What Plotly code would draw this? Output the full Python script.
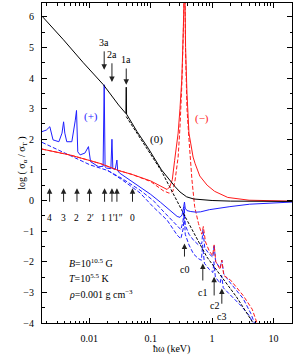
import numpy as np
import plotly.graph_objects as go

# ---- data (photon energy in keV, log10 of opacity ratio) ----
# mode 0 (black)
k_solid_x = [0.0017, 0.0038, 0.008, 0.017, 0.03, 0.0395, 0.04, 0.0405, 0.06, 0.091, 0.15, 0.2, 0.25, 0.3, 0.385, 0.5, 0.7, 1.0, 2, 5, 20]
k_solid_y = [6.02, 5.25, 4.5, 3.78, 3.12, 2.84, 3.7, 2.82, 2.25, 1.71, 1.0, 0.68, 0.45, 0.28, 0.12, 0.05, 0.02, 0.0, -0.02, -0.03, -0.03]
k_dash_x = [0.04, 0.091, 0.15, 0.385, 0.82, 2.5, 4.6, 5.0]
k_dash_y = [2.74, 1.65, 0.96, -0.62, -1.84, -3.15, -3.95, -4.1]

# mode - (red)
r_solid_x = [0.0017, 0.005, 0.01, 0.015, 0.03, 0.05, 0.1, 0.15, 0.185, 0.205, 0.225, 0.245, 0.28, 0.30, 0.322, 0.34,
             0.352, 0.358, 0.37, 0.39, 0.42, 0.49, 0.53, 0.63, 0.83, 1.1, 1.8, 4, 20]
r_solid_y = [1.68, 1.48, 1.31, 1.21, 0.98, 0.85, 0.64, 0.45, 0.36, 0.45, 0.68, 1.3, 2.2, 3.0, 4.0, 5.6,
             7.5, 7.5, 5.0, 3.5, 2.2, 1.42, 1.2, 0.8, 0.5, 0.3, 0.1, 0.01, -0.02]
r_dash_x = [0.0017, 0.005, 0.01, 0.015, 0.03, 0.05, 0.1, 0.13, 0.16, 0.2, 0.23, 0.25, 0.28, 0.30, 0.322, 0.34, 0.352,
            0.358, 0.37, 0.39, 0.42, 0.44, 0.47, 0.52, 0.6, 0.68, 0.72, 0.78, 0.9, 1.02, 1.08, 1.15, 1.35, 1.44, 1.55,
            2.0, 2.4, 3.2, 4.5, 5.3, 5.6]
r_dash_y = [1.68, 1.48, 1.31, 1.21, 0.98, 0.85, 0.62, 0.46, 0.32, 0.24, 0.3, 0.67, 1.42, 2.4, 3.8, 5.5, 7.5,
            7.5, 4.8, 3.0, 2.0, 1.42, 0.67, -0.2, -0.75, -1.1, -0.85, -1.35, -1.65, -1.8, -1.45, -2.0, -2.25, -1.95, -2.45,
            -2.6, -2.8, -3.1, -3.55, -3.95, -4.1]

# mode + (blue)
b_solid_x = [0.0017, 0.0020, 0.00228, 0.00257, 0.0032, 0.0036, 0.00382, 0.0040, 0.0043, 0.0052, 0.0059, 0.0062,
             0.0065, 0.0071, 0.0085, 0.0097, 0.0105, 0.0142, 0.0168, 0.0175, 0.0181, 0.019, 0.0225, 0.0234, 0.0242,
             0.0265, 0.0282, 0.029, 0.031, 0.05, 0.067, 0.1, 0.145, 0.21, 0.27, 0.3, 0.325, 0.345, 0.355, 0.365,
             0.39, 0.45, 0.55, 0.65, 0.9, 1.95, 4.1, 20]
b_solid_y = [2.25, 2.3, 2.41, 1.98, 1.92, 2.2, 2.57, 2.2, 1.92, 1.92, 2.6, 2.94,
             1.59, 1.49, 1.55, 1.76, 1.27, 1.1, 1.12, 3.78, 1.1, 1.06, 1.04, 2.0, 1.04,
             1.02, 1.32, 0.98, 0.9, 0.62, 0.43, 0.2, -0.06, -0.33, -0.52, -0.55, -0.47, -0.2, -0.05, -0.25,
             -0.33, -0.36, -0.38, -0.37, -0.3, -0.2, -0.12, -0.05]
b_dashA_x = [0.0017, 0.005, 0.0104, 0.02, 0.034, 0.067, 0.11, 0.16, 0.22, 0.27, 0.31, 0.335, 0.352, 0.365, 0.42,
             0.5, 0.6, 0.68, 0.71, 0.76, 0.9, 1.03, 1.08, 1.14, 1.35, 1.44, 1.55, 2.0, 2.5, 3.2, 4.3, 5.0]
b_dashA_y = [1.9, 1.45, 1.16, 0.98, 0.72, 0.34, 0.0, -0.35, -0.65, -0.85, -0.95, -0.7, -0.2, -0.8, -1.1,
             -1.3, -1.45, -1.4, -0.95, -1.55, -1.75, -1.85, -1.45, -2.0, -2.2, -1.95, -2.4, -2.7, -2.95, -3.2, -3.7, -4.05]
b_dashB_x = [0.02, 0.034, 0.067, 0.11, 0.185, 0.27, 0.31, 0.34, 0.352, 0.365, 0.42, 0.5, 0.6, 0.67, 0.7, 0.75,
             0.9, 1.03, 1.07, 1.13, 1.35, 1.43, 1.52, 2.0, 3.0, 4.0, 4.8]
b_dashB_y = [0.98, 0.68, 0.25, -0.21, -0.64, -1.13, -1.25, -0.9, -0.35, -1.1, -1.45, -1.75, -1.9, -1.95, -1.45, -2.05,
             -2.25, -2.35, -2.0, -2.5, -2.7, -2.45, -2.85, -3.1, -3.45, -3.75, -4.05]

# arrows: bottom-left (pointing up)
low_labels = ["4", "3", "2", "2′", "1", "1′", "1″", "0"]
low_x = [0.00226, 0.00382, 0.00631, 0.0101, 0.01774, 0.0234, 0.0282, 0.0506]
low_label_x = [0.00226, 0.00382, 0.00631, 0.0103, 0.0170, 0.0226, 0.0302, 0.0506]
low_tail, low_head, low_label_y = -0.09, 0.40, -0.57
# arrows: top (pointing down)
top_labels = ["3a", "2a", "1a"]
top_x = [0.0175, 0.0234, 0.040]
top_tail = [4.92, 4.53, 4.36]
top_head = [4.27, 3.87, 3.78]
top_label_y = [5.15, 4.76, 4.59]
# arrows: c-resonances (pointing up)
c_labels = ["c0", "c1", "c2", "c3"]
c_x = [0.355, 0.706, 1.08, 1.44]
c_head = [-1.4, -2.06, -2.49, -2.87]
c_tail = [-1.88, -2.66, -3.15, -3.42]
c_label_y = [-2.25, -2.99, -3.42, -3.78]

# tick labels
x_ticks = [0.01, 0.1, 1, 10]
x_tick_text = ["0.01", "0.1", "1", "10"]
y_ticks = [-4, -3, -2, -1, 0, 1, 2, 3, 4, 5, 6]

FONT = "Liberation Serif, Times New Roman, serif"
BLUE = "#1f1fff"
RED = "#ff1a1a"
BLACK = "#000000"

fig = go.Figure()


def add(x, y, color, dash):
    fig.add_trace(go.Scatter(x=x, y=y, mode="lines",
                             line=dict(color=color, width=1, dash=dash),
                             showlegend=False, hoverinfo="skip"))


add(b_dashA_x, b_dashA_y, BLUE, "4px,2px")
add(b_dashB_x, b_dashB_y, BLUE, "4px,2px")
add(r_dash_x, r_dash_y, RED, "4px,2px")
add(k_dash_x, k_dash_y, BLACK, "3px,1.5px")
add(b_solid_x, b_solid_y, BLUE, "solid")
add(r_solid_x, r_solid_y, RED, "solid")
add(k_solid_x, k_solid_y, BLACK, "solid")

ann = []
arrow_style = dict(showarrow=True, arrowhead=2, arrowsize=1.1, arrowwidth=1, arrowcolor="#222",
                   xref="x", yref="y", axref="x", ayref="y", text="")
lab_font = dict(family=FONT, size=10, color="black")

for lbl, xv, lxv in zip(low_labels, low_x, low_label_x):
    lx = float(np.log10(xv))
    ann.append(dict(x=lx, y=low_head, ax=lx, ay=low_tail, **arrow_style))
    ann.append(dict(x=float(np.log10(lxv)), y=low_label_y, xref="x", yref="y", text=lbl, showarrow=False,
                    font=dict(family=FONT, size=9.5, color="black")))

for lbl, xv, t, h, ly in zip(top_labels, top_x, top_tail, top_head, top_label_y):
    lx = float(np.log10(xv))
    ann.append(dict(x=lx, y=h, ax=lx, ay=t, **arrow_style))
    ann.append(dict(x=lx, y=ly, xref="x", yref="y", text=lbl, showarrow=False, font=lab_font))

for lbl, xv, t, h, ly in zip(c_labels, c_x, c_tail, c_head, c_label_y):
    lx = float(np.log10(xv))
    ann.append(dict(x=lx, y=h, ax=lx, ay=t, **arrow_style))
    ann.append(dict(x=lx, y=ly, xref="x", yref="y", text=lbl, showarrow=False, font=lab_font))

# mode labels
ann.append(dict(x=float(np.log10(0.0105)), y=2.73, xref="x", yref="y", text="(+)", showarrow=False,
                font=dict(family=FONT, size=11, color=BLUE)))
ann.append(dict(x=float(np.log10(0.68)), y=2.69, xref="x", yref="y", text="(−)", showarrow=False,
                font=dict(family=FONT, size=11, color=RED)))
ann.append(dict(x=float(np.log10(0.123)), y=1.98, xref="x", yref="y", text="(0)", showarrow=False,
                font=dict(family=FONT, size=11, color="black")))

# parameter block
params = ["<i>B</i>=10<sup>10.5</sup> G", "<i>T</i>=10<sup>5.5</sup> K", "<i>ρ</i>=0.001 g cm<sup>−3</sup>"]
params_y = [-2.05, -2.53, -3.04]
for txt, py in zip(params, params_y):
    ann.append(dict(x=float(np.log10(0.0043)), y=py, xref="x", yref="y", text=txt, showarrow=False,
                    xanchor="left", font=dict(family=FONT, size=10, color="black")))

# axis titles
ann.append(dict(x=0.516, y=-0.082, xref="paper", yref="paper", text="ħω (keV)", showarrow=False,
                yanchor="middle", font=dict(family=FONT, size=10, color="black")))
ann.append(dict(x=-0.115, y=0.5, xref="paper", yref="paper",
                text="log ( σ<sub>α</sub> / σ<sub>T</sub> )", showarrow=False, textangle=-90,
                font=dict(family=FONT, size=10, color="black")))

x_minor = [m * 10.0 ** k for k in range(-3, 2) for m in range(2, 10)]

fig.update_layout(
    width=294, height=357,
    margin=dict(l=42, r=2, t=3, b=34, autoexpand=False),
    plot_bgcolor="white", paper_bgcolor="white",
    font=dict(family=FONT, size=10, color="black"),
    annotations=ann,
    xaxis=dict(type="log", range=[float(np.log10(0.0017)), float(np.log10(20))],
               tickmode="array", tickvals=x_ticks, ticktext=x_tick_text,
               ticks="inside", ticklen=5, tickwidth=1, tickcolor="black",
               minor=dict(tickmode="array", tickvals=x_minor, ticks="inside", ticklen=2.5, tickcolor="black"),
               showline=True, linecolor="black", linewidth=1, mirror="ticks",
               showgrid=False, zeroline=False, ticklabelstandoff=6,
               tickfont=dict(family=FONT, size=10)),
    yaxis=dict(range=[-4, 6.45], tickmode="array", tickvals=y_ticks,
               ticks="inside", ticklen=5, tickwidth=1, tickcolor="black",
               minor=dict(dtick=0.5, ticks="inside", ticklen=2.5, tickcolor="black"),
               showline=True, linecolor="black", linewidth=1, mirror="ticks",
               showgrid=False, zeroline=False, ticklabelstandoff=5,
               tickfont=dict(family=FONT, size=10)),
)

fig.write_html("out.html", config={"displayModeBar": False, "staticPlot": True},
               post_script="document.body.style.margin='0';document.body.style.overflow='hidden';")
